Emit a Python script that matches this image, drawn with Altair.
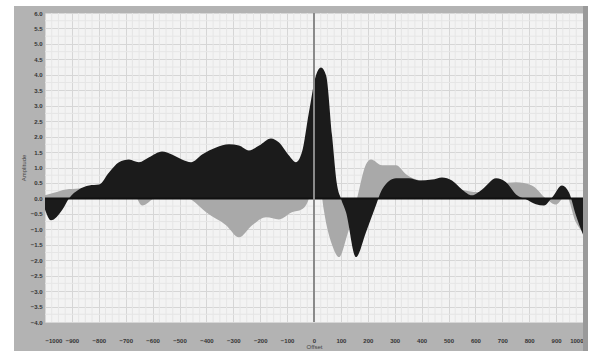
import altair as alt
import pandas as pd

# ---- data ----
black_x = [-1000, -978, -935, -911, -874, -836, -799, -762, -725, -688, -651, -613, -565,
           -528, -491, -457, -416, -364, -316, -279, -242, -204, -160, -130, -93, -67, -45,
           -19, 7, 26, 45, 67, 86, 100, 119, 156, 193, 230, 253, 305, 353, 390, 439, 476,
           513, 550, 587, 625, 677, 714, 751, 788, 825, 855, 885, 922, 948, 974, 1000]
black_y = [-0.36, -0.71, -0.36, 0.0, 0.29, 0.42, 0.45, 0.84, 1.17, 1.26, 1.17, 1.33, 1.52,
           1.42, 1.26, 1.17, 1.42, 1.65, 1.75, 1.71, 1.55, 1.71, 1.94, 1.81, 1.39, 1.17, 1.49,
           2.78, 3.98, 4.24, 3.98, 2.04, 0.42, 0.0, -0.45, -1.9, -1.1, -0.23, 0.29, 0.65, 0.65,
           0.58, 0.61, 0.68, 0.58, 0.29, 0.10, 0.29, 0.65, 0.52, 0.13, -0.03, -0.19, -0.23,
           0.03, 0.42, 0.19, -0.55, -1.17]

grey_x = [-1000, -967, -922, -874, -799, -725, -669, -639, -595, -520, -454, -401, -327,
          -279, -230, -178, -130, -82, -45, -19, 0, 19, 37, 67, 93, 123, 160, 193, 212, 253,
          305, 342, 428, 539, 613, 688, 751, 810, 862, 900, 937, 974, 1000]
grey_y = [0.10, 0.18, 0.29, 0.32, 0.40, 0.50, 0.20, -0.23, 0.0, 0.15, -0.05, -0.45, -0.87,
          -1.26, -0.87, -0.61, -0.68, -0.45, -0.35, 0.0, 1.5, 0.8, -0.4, -1.5, -1.9, -1.2,
          0.0, 1.1, 1.26, 1.07, 1.07, 0.78, 0.5, 0.3, 0.2, 0.45, 0.52, 0.42, 0.0, -0.2, 0.1,
          -0.78, -1.1]

x_ticks = list(range(-1000, 1001, 100))
y_ticks = [v / 2 for v in range(-8, 13)]
x_minor = [v for v in range(-1000, 1001, 25) if v % 100 != 0]
y_minor = [v / 4 for v in range(-16, 25) if v % 2 != 0]

W, H = 538, 309

black_df = pd.DataFrame({"lag": black_x, "value": black_y})
grey_df = pd.DataFrame({"lag": grey_x, "value": grey_y})

xs = alt.Scale(domain=[-1000, 1000], nice=False, zero=False)
ys = alt.Scale(domain=[-4, 6], nice=False, zero=False)

x_axis = alt.Axis(values=x_ticks, format="d", grid=True, gridColor="#d6d6d6", gridWidth=1,
                  domain=False, ticks=False, labelFontSize=6, labelColor="#333333",
                  labelFontWeight="bold",
                  labelPadding=15, title="Offset", titleFontSize=6,
                  titleColor="#444444", titleFontWeight="normal", titlePadding=0,
                  labelFont="Liberation Sans", titleFont="Liberation Sans")
y_axis = alt.Axis(values=y_ticks, grid=True, gridColor="#d6d6d6", gridWidth=1,
                  domain=False, ticks=False, labelFontSize=6, labelColor="#333333",
                  labelFontWeight="bold",
                  labelPadding=3, title="Amplitude", titleFontSize=6,
                  titleColor="#444444", titleFontWeight="normal", titlePadding=4,
                  labelFont="Liberation Sans", titleFont="Liberation Sans")

xminor = alt.Chart(pd.DataFrame({"v": x_minor})).mark_rule(
    color="#e6e6e6", strokeWidth=1).encode(x=alt.X("v:Q", scale=xs, axis=x_axis))
yminor = alt.Chart(pd.DataFrame({"v": y_minor})).mark_rule(
    color="#e6e6e6", strokeWidth=1).encode(y=alt.Y("v:Q", scale=ys, axis=y_axis))

grey = alt.Chart(grey_df).mark_area(color="#a9a9a9", interpolate="monotone").encode(
    x=alt.X("lag:Q", scale=xs, axis=x_axis),
    y=alt.Y("value:Q", scale=ys, axis=y_axis),
    y2=alt.datum(0),
)
black = alt.Chart(black_df).mark_area(color="#1b1b1b", interpolate="monotone").encode(
    x=alt.X("lag:Q", scale=xs, axis=x_axis),
    y=alt.Y("value:Q", scale=ys, axis=y_axis),
    y2=alt.datum(0),
)
zero_line = alt.Chart(pd.DataFrame({"v": [0]})).mark_rule(
    color="#111111", strokeWidth=2).encode(y=alt.Y("v:Q", scale=ys, axis=y_axis))
center_line = alt.Chart(pd.DataFrame({"v": [0]})).mark_rule(
    color="#8a8a8a", strokeWidth=2).encode(x=alt.X("v:Q", scale=xs, axis=x_axis))

# white margins around the grey frame (decoration)
strip_left = alt.Chart(pd.DataFrame({"a": [0]})).mark_rect(color="white", clip=False).encode(
    x=alt.value(-45), x2=alt.value(-31), y=alt.value(-13), y2=alt.value(H + 29))
strip_top = alt.Chart(pd.DataFrame({"a": [0]})).mark_rect(color="white", clip=False).encode(
    x=alt.value(-45), x2=alt.value(W + 9), y=alt.value(-13), y2=alt.value(-7))
strip_right = alt.Chart(pd.DataFrame({"a": [0]})).mark_rect(color="white", clip=False).encode(
    x=alt.value(W + 5), x2=alt.value(W + 9), y=alt.value(-13), y2=alt.value(H + 29))
border_right = alt.Chart(pd.DataFrame({"a": [0]})).mark_rect(color="#9a9a9a", clip=False).encode(
    x=alt.value(W), x2=alt.value(W + 5), y=alt.value(-7), y2=alt.value(H + 29))

chart = alt.layer(
    xminor, yminor, grey, black, zero_line, center_line,
    border_right, strip_left, strip_top, strip_right,
).properties(
    width=W, height=H,
    background="#b3b3b3",
    padding={"left": 45, "top": 13, "right": 9, "bottom": 29},
    autosize=alt.AutoSizeParams(type="none"),
).configure_view(
    fill="#f3f3f3", stroke="#999999", strokeWidth=1
)

chart.save("out.html", embed_options={"renderer": "svg", "actions": False})
